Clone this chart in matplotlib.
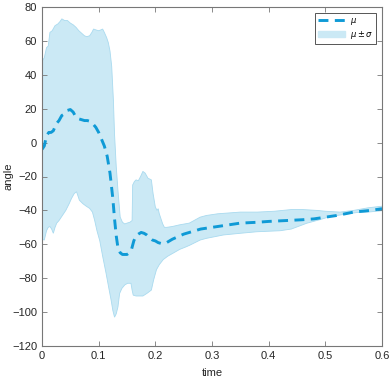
import numpy as np
import matplotlib
matplotlib.use("Agg")
import matplotlib.pyplot as plt
from matplotlib.lines import Line2D
from matplotlib.patches import Patch

# ---- data ----
mu_t = [0, 0.004, 0.008, 0.012, 0.016, 0.02, 0.025, 0.03, 0.035, 0.04, 0.045, 0.05,
        0.055, 0.06, 0.065, 0.07, 0.075, 0.08, 0.085, 0.09, 0.095, 0.1, 0.105, 0.11,
        0.115, 0.12, 0.125, 0.128, 0.131, 0.134, 0.138, 0.142, 0.146, 0.15, 0.154,
        0.158, 0.162, 0.166, 0.17, 0.175, 0.18, 0.185, 0.19, 0.195, 0.2, 0.205, 0.21,
        0.215, 0.22, 0.23, 0.24, 0.25, 0.26, 0.27, 0.28, 0.3, 0.32, 0.35, 0.38, 0.4,
        0.43, 0.46, 0.48, 0.5, 0.52, 0.55, 0.58, 0.6]
mu = [-4, -2, 4, 6, 6, 7, 11, 13, 16, 17, 19, 19.5, 18, 15, 14, 13.5, 13, 13, 12.5,
      11, 9, 6, 2, -2, -8, -18, -33, -45, -55, -62, -65, -66, -66, -66, -65, -63, -58,
      -55, -54, -53, -53.5, -54.5, -56, -57.5, -58, -59, -59.5, -59.5, -59, -57, -55.5,
      -54, -53, -52, -51, -50, -49, -47.5, -47, -46.5, -46, -45.5, -45, -44, -43, -41,
      -40, -39]

up_t = [0, 0.004, 0.008, 0.011, 0.014, 0.018, 0.023, 0.028, 0.032, 0.035, 0.04, 0.045,
        0.05, 0.055, 0.06, 0.065, 0.07, 0.075, 0.079, 0.084, 0.088, 0.091, 0.095, 0.1,
        0.104, 0.107, 0.11, 0.114, 0.117, 0.12, 0.123, 0.126, 0.128, 0.131, 0.134,
        0.138, 0.142, 0.146, 0.15, 0.155, 0.159, 0.16, 0.163, 0.166, 0.17, 0.174, 0.178,
        0.182, 0.187, 0.19, 0.193, 0.196, 0.2, 0.203, 0.205, 0.207, 0.21, 0.213, 0.216,
        0.22, 0.23, 0.243, 0.26, 0.279, 0.29, 0.31, 0.33, 0.35, 0.38, 0.41, 0.44, 0.46,
        0.485, 0.5, 0.526, 0.55, 0.575, 0.6]
upper = [48, 50, 56, 57, 65, 66, 69, 70, 71.5, 73, 72, 72, 70.5, 69.5, 68, 66, 64.5,
         63, 62.5, 63, 65, 67, 66.5, 66, 66.5, 67, 65, 62, 59, 54, 45, 25, 5, -14, -28,
         -44, -47, -48, -47.5, -47, -46, -25, -23, -22, -22.5, -20, -17, -18, -21, -21.5,
         -22, -30, -38, -40, -39, -42, -45, -48, -50, -50, -49.5, -48.5, -47.5, -44,
         -43, -42, -41.5, -41, -41, -40.5, -39.5, -39.5, -40, -40.5, -41, -40, -38.5,
         -37.5]

lo_t = [0, 0.004, 0.008, 0.011, 0.014, 0.017, 0.02, 0.023, 0.026, 0.03, 0.034, 0.037,
        0.042, 0.048, 0.052, 0.057, 0.061, 0.066, 0.072, 0.078, 0.084, 0.089, 0.093,
        0.097, 0.102, 0.107, 0.113, 0.118, 0.122, 0.125, 0.128, 0.131, 0.134, 0.137,
        0.141, 0.146, 0.151, 0.157, 0.159, 0.161, 0.166, 0.172, 0.178, 0.185, 0.193,
        0.197, 0.202, 0.207, 0.214, 0.222, 0.231, 0.243, 0.255, 0.261, 0.279, 0.29,
        0.32, 0.35, 0.379, 0.42, 0.44, 0.467, 0.49, 0.508, 0.53, 0.555, 0.575, 0.6]
lower = [-57, -57.5, -52, -50, -49.5, -51, -53.5, -50, -47.5, -46, -44, -42.5, -40, -36,
         -33, -30, -29, -34, -36, -37.5, -38.8, -41, -46, -52, -58, -67, -77, -86, -93,
         -99, -103, -101, -97, -89, -86, -84, -83, -83, -87, -90, -90.5, -90.5, -90.5,
         -89, -87, -81, -75, -72, -69, -67, -65.3, -63, -61.4, -60.5, -57.5, -56.5,
         -54.5, -53.5, -52.6, -52, -51, -47.6, -45.5, -43.7, -42.5, -41.3, -41, -40.2]

xticks = [0, 0.1, 0.2, 0.3, 0.4, 0.5, 0.6]
xticklabels = ["0", "0.1", "0.2", "0.3", "0.4", "0.5", "0.6"]
yticks = [-120, -100, -80, -60, -40, -20, 0, 20, 40, 60, 80]

# ---- style ----
plt.rcParams['font.family'] = ['Liberation Sans', 'DejaVu Sans']
line_c = '#0f9ad6'
fill_c = '#cbe9f5'
edge_c = '#a9daef'
axis_c = '#777777'
text_c = '#262626'

fig = plt.figure(figsize=(3.91, 3.78), dpi=100)
ax = fig.add_axes([42/391, 32/378, 340/391, 339/378])

poly_x = np.concatenate([up_t, lo_t[::-1]])
poly_y = np.concatenate([upper, lower[::-1]])
ax.fill(poly_x, poly_y, facecolor=fill_c, edgecolor=edge_c, linewidth=0.6, zorder=1)
ax.plot(mu_t, mu, color=line_c, linewidth=2.1, linestyle=(0, (3.4, 2.2)), zorder=2)

ax.set_xlim(0, 0.6)
ax.set_ylim(-120, 80)
ax.set_xticks(xticks)
ax.set_xticklabels(xticklabels)
ax.set_yticks(yticks)
ax.tick_params(direction='in', length=3.5, width=0.6, colors=axis_c,
               labelcolor=text_c, labelsize=8, top=True, right=True, pad=3.5)
for s in ax.spines.values():
    s.set_color(axis_c)
    s.set_linewidth(0.8)

ax.set_xlabel('time', fontsize=8, color=text_c, labelpad=5)
ax.set_ylabel('angle', fontsize=8, color=text_c, labelpad=-1)

handles = [Line2D([0], [0], color=line_c, linewidth=2.1, linestyle=(0, (3.4, 2.2))),
           Patch(facecolor=fill_c, edgecolor=fill_c)]
leg = ax.legend(handles, [r'$\mu$', r'$\mu\pm\sigma$'], loc='upper right',
                fontsize=6, frameon=True, fancybox=False, framealpha=1,
                edgecolor='#555555', borderaxespad=0.7, handlelength=3.2,
                handletextpad=0.6, borderpad=0.35, labelspacing=0.25)
leg.get_frame().set_linewidth(0.7)

fig.savefig('out.png', dpi=100)
